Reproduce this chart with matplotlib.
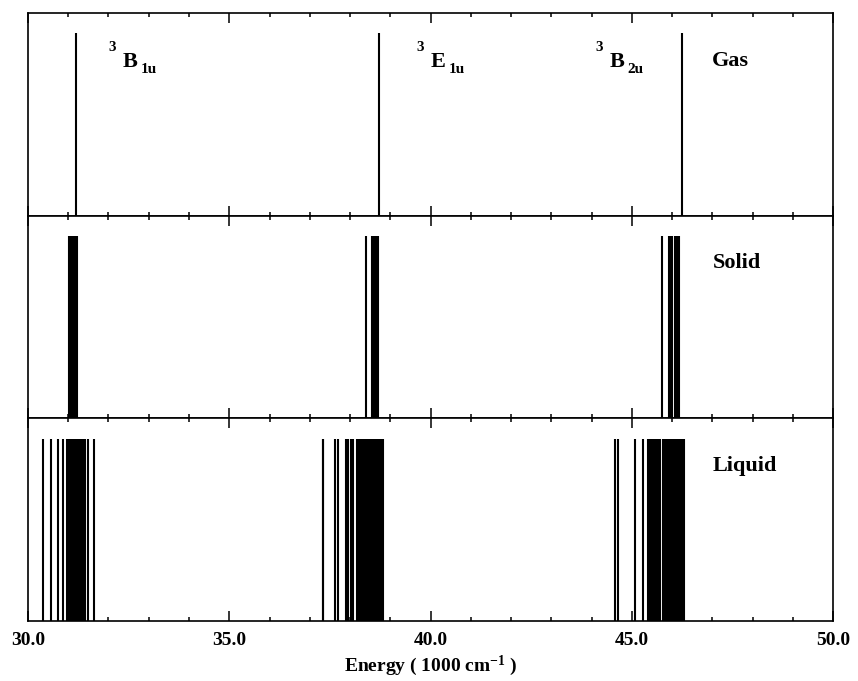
import matplotlib
matplotlib.use("Agg")
import matplotlib.pyplot as plt
from matplotlib.ticker import MultipleLocator, FormatStrFormatter

plt.rcParams['font.family'] = ['Liberation Serif', 'DejaVu Serif']
plt.rcParams['font.weight'] = 'bold'
plt.rcParams['mathtext.default'] = 'regular'

# line positions, 1000 cm^-1
gas_lines = [31.19, 38.72, 46.24]
solid_lines = [31.02, 31.07, 31.10, 31.13, 31.16, 31.19, 31.22,
               38.39, 38.54, 38.57, 38.60, 38.63, 38.66, 38.69,
               45.74, 45.93, 45.96, 46.00, 46.08, 46.11, 46.14, 46.17]
liquid_lines = [30.37, 30.57, 30.75, 30.86,
                30.97, 31.00, 31.03, 31.06, 31.09, 31.12, 31.15, 31.18,
                31.21, 31.24, 31.27, 31.30, 31.33, 31.36, 31.39, 31.42,
                31.48, 31.65,
                37.32, 37.34, 37.63, 37.71, 37.90, 37.96, 38.03, 38.07,
                38.18, 38.21, 38.24, 38.27, 38.30, 38.33, 38.36, 38.39, 38.42,
                38.45, 38.48, 38.51, 38.54, 38.57, 38.60, 38.63, 38.66, 38.69,
                38.72, 38.75, 38.78, 38.81,
                44.57, 44.65, 45.08, 45.27,
                45.41, 45.44, 45.47, 45.50, 45.53, 45.56, 45.59, 45.62, 45.65, 45.69,
                45.78, 45.81, 45.84, 45.87, 45.90, 45.93, 45.96, 45.99, 46.02,
                46.05, 46.08, 46.11, 46.14, 46.17, 46.20, 46.23, 46.26, 46.29]
phases = ['Gas', 'Solid', 'Liquid']
line_sets = [gas_lines, solid_lines, liquid_lines]
xticks = [30.0, 35.0, 40.0, 45.0, 50.0]

fig, axes = plt.subplots(3, 1, sharex=True, figsize=(8.58, 6.81), dpi=100)
fig.subplots_adjust(left=0.0326, right=0.971, bottom=0.088, top=0.981, hspace=0)

for ax, name, pos in zip(axes, phases, line_sets):
    ax.vlines(pos, 0, 0.9, color='black', lw=1.5)
    ax.set_ylim(0, 1)
    ax.set_xlim(30, 50)
    ax.set_yticks([])
    for s in ax.spines.values():
        s.set_linewidth(1.2)
    ax.xaxis.set_major_locator(MultipleLocator(5))
    ax.xaxis.set_minor_locator(MultipleLocator(1))
    ax.tick_params(axis='x', which='both', direction='in', top=True, bottom=True, width=1.1)
    ax.tick_params(axis='x', which='major', length=7)
    ax.tick_params(axis='x', which='minor', length=3)
    ax.text(0.85, 0.765, name, transform=ax.transAxes, fontsize=16, fontweight='bold',
            ha='left', va='center')

axes[2].set_xticks(xticks)
axes[2].xaxis.set_major_formatter(FormatStrFormatter('%.1f'))
axes[2].tick_params(axis='x', labelsize=14, pad=8)
axes[2].set_xlabel('Energy ( 1000 cm$^{-1}$ )', fontsize=14, fontweight='bold', labelpad=3)


def state_label(ax, x, sym, sub):
    ax.text(x, 0.83, '3', transform=ax.transAxes, fontsize=11, fontweight='bold', va='center')
    ax.text(x + 0.018, 0.76, sym, transform=ax.transAxes, fontsize=16, fontweight='bold', va='center')
    ax.text(x + 0.04, 0.72, sub, transform=ax.transAxes, fontsize=11, fontweight='bold', va='center')


state_label(axes[0], 0.100, 'B', '1u')
state_label(axes[0], 0.482, 'E', '1u')
state_label(axes[0], 0.705, 'B', '2u')

fig.savefig('out.png', dpi=100)
